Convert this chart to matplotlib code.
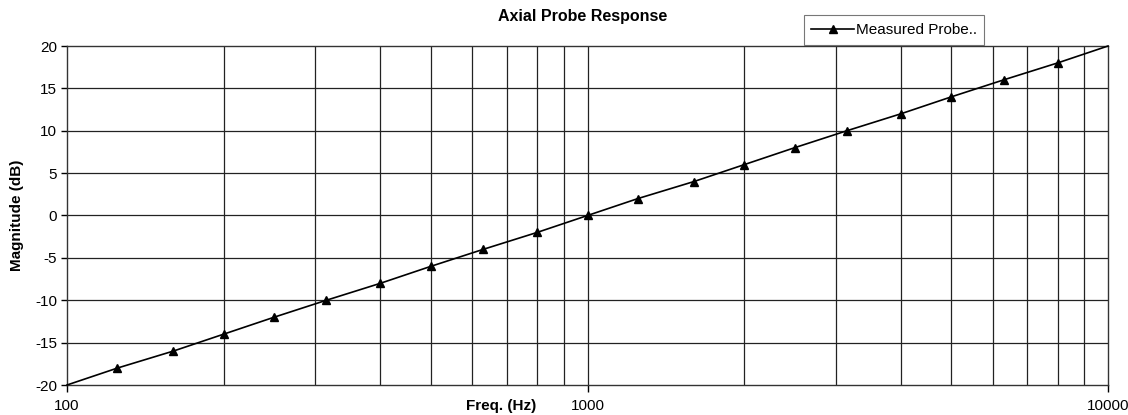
import matplotlib
matplotlib.use("Agg")
import matplotlib.pyplot as plt
from matplotlib.ticker import FixedLocator, NullFormatter, FixedFormatter

plt.rcParams['font.family'] = ['Liberation Sans', 'DejaVu Sans']
plt.rcParams['axes.unicode_minus'] = False

freq_hz = [100, 125, 160, 200, 250, 315, 400, 500, 630, 800, 1000,
           1250, 1600, 2000, 2500, 3150, 4000, 5000, 6300, 8000, 10000]
magnitude_db = [-20, -18, -16, -14, -12, -10, -8, -6, -4, -2, 0,
                2, 4, 6, 8, 10, 12, 14, 16, 18, 20]
series_name = "Measured Probe.."
title = "Axial Probe Response"
x_major = [100, 1000, 10000]
x_minor = [200, 300, 400, 500, 600, 700, 800, 900,
           2000, 3000, 4000, 5000, 6000, 7000, 8000, 9000]
y_ticks = [-20, -15, -10, -5, 0, 5, 10, 15, 20]

fig = plt.figure(figsize=(11.28, 4.15), dpi=100)
ax = fig.add_axes([67/1128, 1-385/415, (1108-67)/1128, (385-46)/415])

ax.set_xscale('log')
ax.set_xlim(100, 10000)
ax.set_ylim(-20, 20)

gc = '#222222'
for x in x_minor + x_major[1:-1]:
    ax.axvline(x, color=gc, lw=0.9, zorder=1)
for y in y_ticks[1:-1]:
    ax.axhline(y, color=gc, lw=0.9, zorder=1)

ax.plot(freq_hz, magnitude_db, color='black', lw=1.2, marker='^', ms=5.5,
        markevery=slice(1, -1), label=series_name, zorder=3, clip_on=False)

ax.xaxis.set_major_locator(FixedLocator(x_major))
ax.xaxis.set_major_formatter(FixedFormatter([str(v) for v in x_major]))
ax.xaxis.set_minor_locator(FixedLocator(x_minor))
ax.xaxis.set_minor_formatter(NullFormatter())
ax.tick_params(axis='x', which='minor', length=0)
ax.tick_params(axis='x', which='major', length=5, width=1, pad=5, labelsize=11)
ax.set_yticks(y_ticks)
ax.tick_params(axis='y', length=4, width=1, labelsize=11, pad=3)

for s in ax.spines.values():
    s.set_color('#333333')
    s.set_linewidth(1.0)

fig.text(583/1128, 1-16/415, title, ha='center', va='center', fontsize=11.5, fontweight='bold')
fig.text(501/1128, 1-406/415, "Freq. (Hz)", ha='center', va='center', fontsize=11, fontweight='bold')
fig.text(17/1128, 1-215/415, "Magnitude (dB)", ha='center', va='center', rotation=90,
         fontsize=11, fontweight='bold')

leg = ax.legend(loc='center', bbox_to_anchor=(894/1128, 1-30/415), bbox_transform=fig.transFigure,
                frameon=True, fancybox=False, fontsize=11, handlelength=2.8, borderpad=0.5,
                handletextpad=0.1, borderaxespad=0)
leg.get_frame().set_edgecolor('#555555')
leg.get_frame().set_linewidth(0.8)

fig.savefig('out.png', dpi=100)
